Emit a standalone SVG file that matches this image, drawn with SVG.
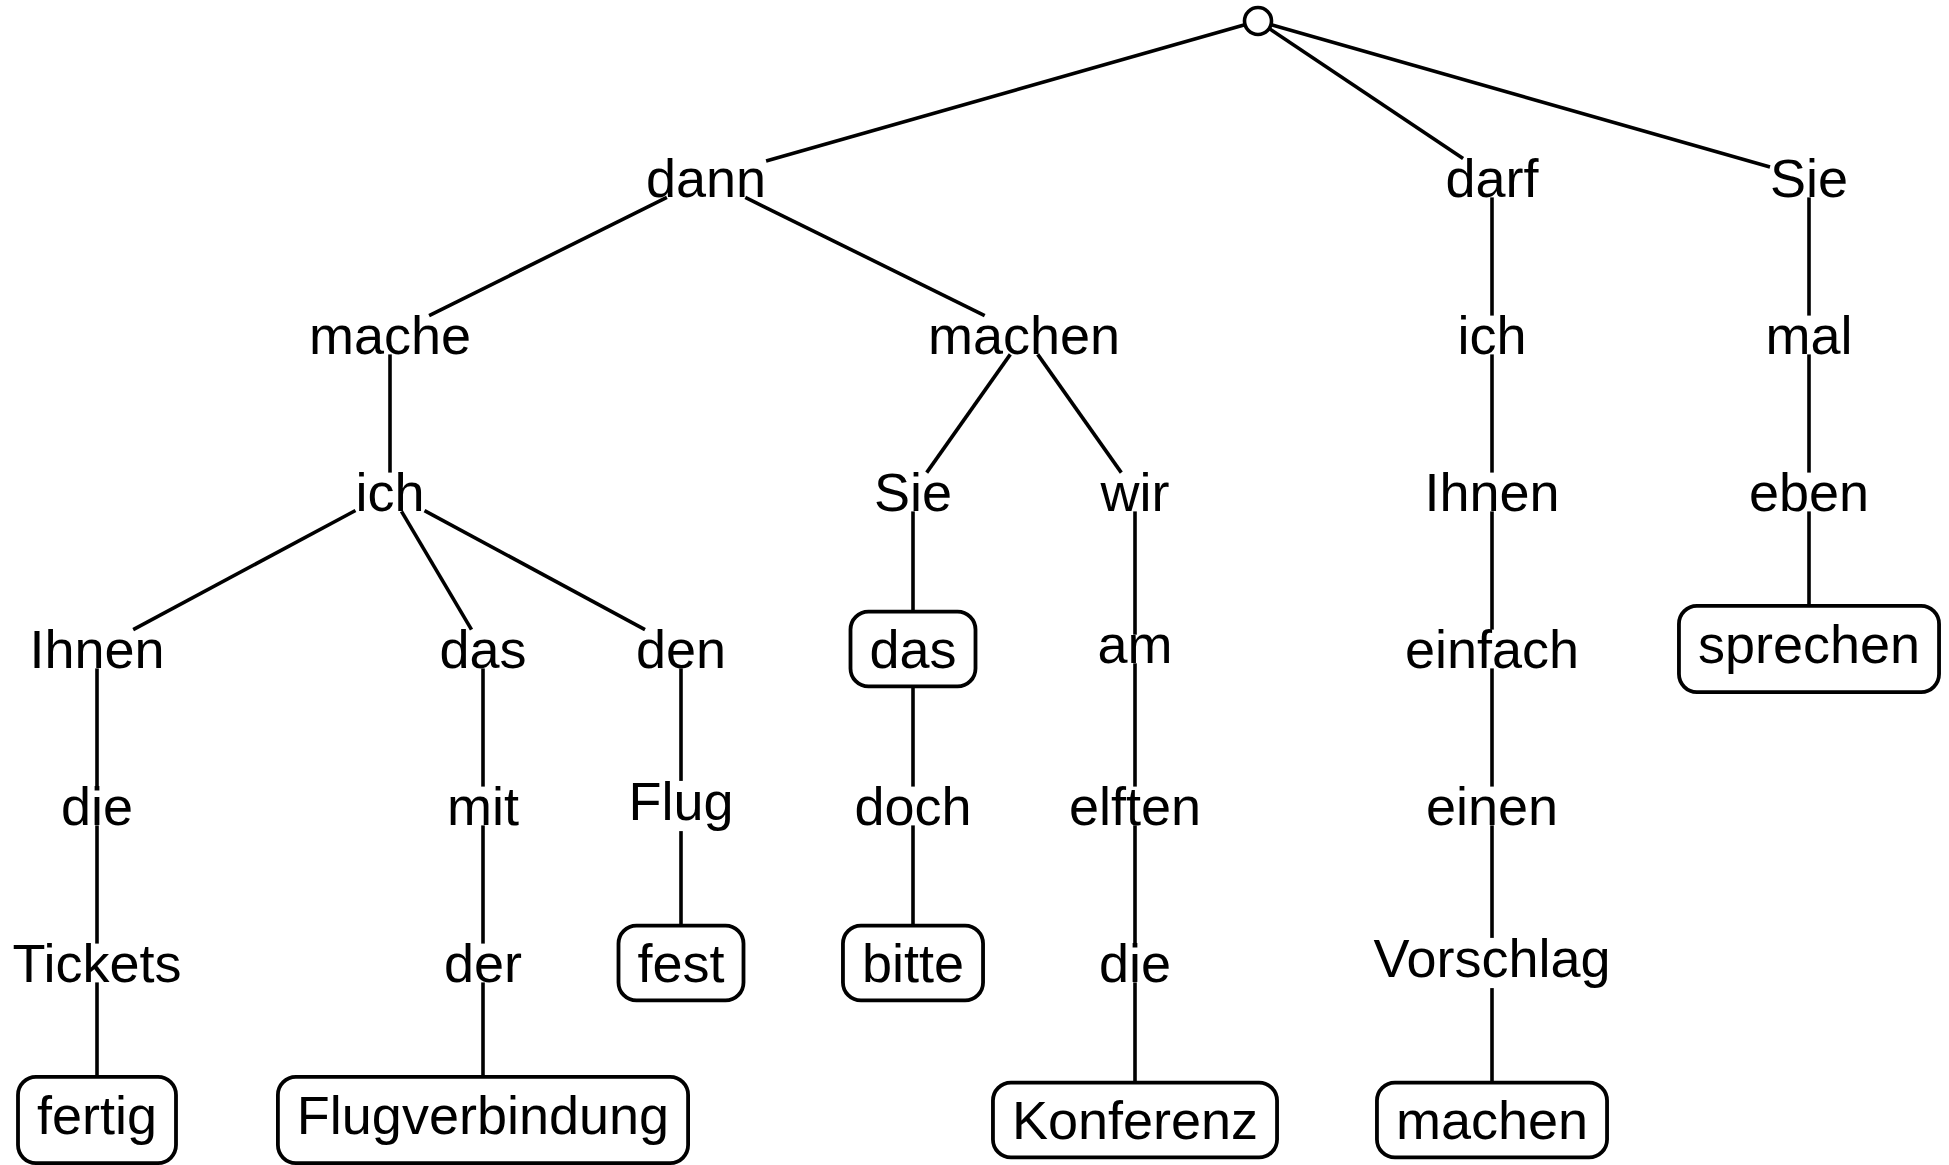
<svg xmlns="http://www.w3.org/2000/svg" width="1949" height="1165" viewBox="0 0 1949 1165">
  <style>
    .edge { stroke: #000; stroke-width: 3.6; fill: none; stroke-linecap: butt; }
    .word { font-family: "Liberation Sans", Arial, sans-serif; font-size: 54px; fill: #000; text-anchor: middle; }
    .box { fill: #fff; stroke: #000; stroke-width: 3.8; }
    .root { fill: #fff; stroke: #000; stroke-width: 3.6; }
  </style>
  <rect width="1949" height="1165" fill="#fff"/>

  <!-- dependency edges: centre-to-centre lines trimmed at each word's extent -->
  <g id="edges">
    <line class="edge" x1="1258" y1="21" x2="766.1" y2="160.9"/>
    <line class="edge" x1="1258" y1="21" x2="1463.1" y2="158.6"/>
    <line class="edge" x1="1258" y1="21" x2="1770" y2="166.9"/>
    <line class="edge" x1="666.9" y1="197.4" x2="429.1" y2="315.6"/>
    <line class="edge" x1="745.3" y1="197.4" x2="984.7" y2="315.6"/>
    <line class="edge" x1="390" y1="354.4" x2="390" y2="472.6"/>
    <line class="edge" x1="355.5" y1="510.5" x2="133.2" y2="629.6"/>
    <line class="edge" x1="401.5" y1="511.4" x2="471.5" y2="629.6"/>
    <line class="edge" x1="424.5" y1="510.6" x2="645" y2="629.6"/>
    <line class="edge" x1="97" y1="668.4" x2="97" y2="786.6"/>
    <line class="edge" x1="97" y1="825.4" x2="97" y2="943.6"/>
    <line class="edge" x1="97" y1="982.4" x2="97" y2="1077"/>
    <line class="edge" x1="483" y1="668.4" x2="483" y2="786.6"/>
    <line class="edge" x1="483" y1="825.4" x2="483" y2="943.6"/>
    <line class="edge" x1="483" y1="982.4" x2="483" y2="1077"/>
    <line class="edge" x1="681" y1="668.4" x2="681" y2="780.9"/>
    <line class="edge" x1="681" y1="831.1" x2="681" y2="925.6"/>
    <line class="edge" x1="1010.3" y1="354.4" x2="926.7" y2="472.6"/>
    <line class="edge" x1="1037.7" y1="354.4" x2="1121.3" y2="472.6"/>
    <line class="edge" x1="913" y1="511.4" x2="913" y2="611.6"/>
    <line class="edge" x1="913" y1="686.4" x2="913" y2="786.6"/>
    <line class="edge" x1="913" y1="825.4" x2="913" y2="925.6"/>
    <line class="edge" x1="1135" y1="511.4" x2="1135" y2="634.7"/>
    <line class="edge" x1="1135" y1="663.3" x2="1135" y2="786.6"/>
    <line class="edge" x1="1135" y1="825.4" x2="1135" y2="943.6"/>
    <line class="edge" x1="1135" y1="982.4" x2="1135" y2="1082.6"/>
    <line class="edge" x1="1492" y1="197.4" x2="1492" y2="315.6"/>
    <line class="edge" x1="1492" y1="354.4" x2="1492" y2="472.6"/>
    <line class="edge" x1="1492" y1="511.4" x2="1492" y2="629.6"/>
    <line class="edge" x1="1492" y1="668.4" x2="1492" y2="786.6"/>
    <line class="edge" x1="1492" y1="825.4" x2="1492" y2="937.9"/>
    <line class="edge" x1="1492" y1="988.1" x2="1492" y2="1082.6"/>
    <line class="edge" x1="1809" y1="197.4" x2="1809" y2="315.6"/>
    <line class="edge" x1="1809" y1="354.4" x2="1809" y2="472.6"/>
    <line class="edge" x1="1809" y1="511.4" x2="1809" y2="605.9"/>
  </g>

  <!-- root -->
  <g id="n-root"><circle class="root" cx="1258" cy="21" r="13.5"/></g>

  <!-- level 1 -->
  <g id="n-dann"><text class="word" x="706" y="197.4">dann</text></g>
  <g id="n-darf"><text class="word" x="1492" y="197.4">darf</text></g>
  <g id="n-Sie1"><text class="word" x="1809" y="197.4">Sie</text></g>

  <!-- level 2 -->
  <g id="n-mache"><text class="word" x="390" y="354.4">mache</text></g>
  <g id="n-machen"><text class="word" x="1024" y="354.4">machen</text></g>
  <g id="n-ich2"><text class="word" x="1492" y="354.4">ich</text></g>
  <g id="n-mal"><text class="word" x="1809" y="354.4">mal</text></g>

  <!-- level 3 -->
  <g id="n-ich"><text class="word" x="390" y="511.4">ich</text></g>
  <g id="n-Sie2"><text class="word" x="913" y="511.4">Sie</text></g>
  <g id="n-wir"><text class="word" x="1135" y="511.4">wir</text></g>
  <g id="n-Ihnen2"><text class="word" x="1492" y="511.4">Ihnen</text></g>
  <g id="n-eben"><text class="word" x="1809" y="511.4">eben</text></g>

  <!-- level 4 -->
  <g id="n-Ihnen"><text class="word" x="97" y="668.4">Ihnen</text></g>
  <g id="n-das"><text class="word" x="483" y="668.4">das</text></g>
  <g id="n-den"><text class="word" x="681" y="668.4">den</text></g>
  <g id="n-das2"><rect class="box" x="850.5" y="611.6" width="125" height="74.8" rx="18"/><text class="word" x="913" y="668.4">das</text></g>
  <g id="n-am"><text class="word" x="1135" y="663.3">am</text></g>
  <g id="n-einfach"><text class="word" x="1492" y="668.4">einfach</text></g>
  <g id="n-sprechen"><rect class="box" x="1678.95" y="605.9" width="260.1" height="86.2" rx="18"/><text class="word" x="1809" y="662.8">sprechen</text></g>

  <!-- level 5 -->
  <g id="n-die"><text class="word" x="97" y="825.4">die</text></g>
  <g id="n-mit"><text class="word" x="483" y="825.4">mit</text></g>
  <g id="n-Flug"><text class="word" x="681" y="819.8">Flug</text></g>
  <g id="n-doch"><text class="word" x="913" y="825.4">doch</text></g>
  <g id="n-elften"><text class="word" x="1135" y="825.4">elften</text></g>
  <g id="n-einen"><text class="word" x="1492" y="825.4">einen</text></g>

  <!-- level 6 -->
  <g id="n-Tickets"><text class="word" x="97" y="982.4">Tickets</text></g>
  <g id="n-der"><text class="word" x="483" y="982.4">der</text></g>
  <g id="n-fest"><rect class="box" x="618.5" y="925.6" width="125" height="74.8" rx="18"/><text class="word" x="681" y="982.4">fest</text></g>
  <g id="n-bitte"><rect class="box" x="842.95" y="925.6" width="140.1" height="74.8" rx="18"/><text class="word" x="913" y="982.4">bitte</text></g>
  <g id="n-die2"><text class="word" x="1135" y="982.4">die</text></g>
  <g id="n-Vorschlag"><text class="word" x="1492" y="976.8">Vorschlag</text></g>

  <!-- level 7 -->
  <g id="n-fertig"><rect class="box" x="18" y="1076.9" width="158" height="86.2" rx="18"/><text class="word" x="97" y="1133.8">fertig</text></g>
  <g id="n-Flugverbindung"><rect class="box" x="277.9" y="1076.9" width="410.2" height="86.2" rx="18"/><text class="word" x="483" y="1133.8">Flugverbindung</text></g>
  <g id="n-Konferenz"><rect class="box" x="992.95" y="1082.6" width="284.1" height="74.8" rx="18"/><text class="word" x="1135" y="1139.4">Konferenz</text></g>
  <g id="n-machen2"><rect class="box" x="1376.95" y="1082.6" width="230.1" height="74.8" rx="18"/><text class="word" x="1492" y="1139.4">machen</text></g>
</svg>
